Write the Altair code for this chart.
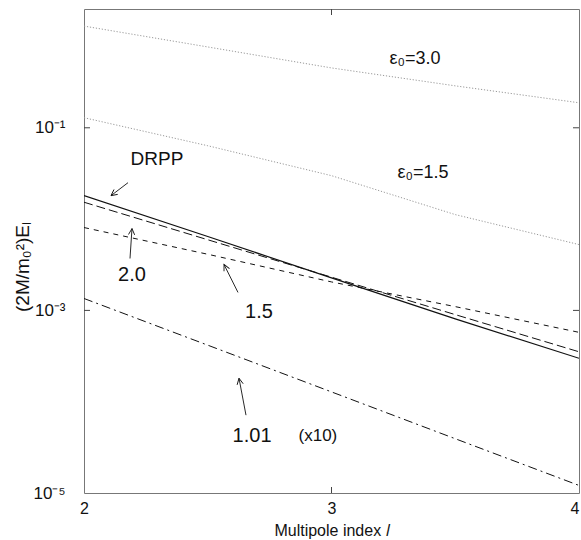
import math
import altair as alt
import pandas as pd

# ---- data ----
l_vals = [2.0, 2.5, 3.0, 3.5, 4.0]
eps30 = [1.30, 0.768, 0.4525, 0.288, 0.188]
eps15 = [0.129, 0.0636, 0.0299, 0.0112, 0.00526]
drpp = [0.0181, 0.00644, 0.00227, 0.000807, 0.000299]
e20 = [0.0153, 0.00594, 0.00231, 0.000899, 0.000352]
e15 = [0.00808, 0.00412, 0.00205, 0.00110, 0.000575]
e101 = [0.00135, 0.000416, 0.000128, 0.0000393, 0.0000121]

x_ticks = [2, 3, 4]
y_ticks = [1e-5, 1e-3, 1e-1]
x_inner_ticks = [3]
y_inner_ticks = [1e-3, 1e-1]

y_title = "(2M/m₀²)Eₗ"
x_title = "Multipole index 𝑙"

ann_text = ["ε₀=3.0", "ε₀=1.5", "DRPP", "2.0", "1.5", "1.01", "(x10)"]
ann_l = [3.337, 3.37, 2.295, 2.194, 2.707, 2.679, 2.945]
ann_v = [0.5676, 0.03223, 0.04584, 0.002413, 0.000951, 0.000042, 0.000042]
ann_size = [18, 18, 19, 20, 20, 20, 17]

# arrows: tail -> tip, in data coordinates
arr_l1 = [2.1778, 2.1859, 2.6222, 2.6545]
arr_v1 = [0.02505, 0.003702, 0.001573, 7.12e-5]
arr_l2 = [2.1091, 2.1939, 2.5657, 2.6263]
arr_v2 = [0.01806, 0.007873, 0.003183, 1.806e-4]

W, H = 495, 484
TICK = 6
X_DOM = [2, 4]
Y_DOM = [1e-5, 2]
FONT = "Liberation Sans"

xs = alt.Scale(domain=X_DOM, nice=False, zero=False)
ys = alt.Scale(type="log", domain=Y_DOM, nice=False)

x_axis = alt.Axis(values=x_ticks, labelExpr="'' + round(datum.value)",
                  labelFontSize=16, labelPadding=7, labelOverlap=False,
                  labelFlush=False,
                  labelAlign={"condition": {"test": "datum.value >= 4", "value": "right"},
                              "value": "center"},
                  ticks=False, domain=False, grid=False, title=x_title,
                  titleFontSize=16, titleFontWeight="normal", titlePadding=6)
y_axis = alt.Axis(values=y_ticks,
                  labelExpr="'10' + (datum.value < 1e-4 ? '⁻⁵' : (datum.value < 1e-2 ? '⁻³' : '⁻¹'))",
                  labelFontSize=17, labelPadding=19, labelBaseline="middle",
                  labelOverlap=False, labelFlush=False,
                  ticks=False, domain=False, grid=False, title="")

X = alt.X("l:Q", scale=xs, axis=x_axis)
Y = alt.Y("v:Q", scale=ys, axis=y_axis)


def sdf(vals):
    return pd.DataFrame({"l": l_vals, "v": vals})


def line(vals, color, dash=None, width=1.0):
    kw = dict(color=color, strokeWidth=width, clip=True)
    if dash:
        kw["strokeDash"] = dash
    return alt.Chart(sdf(vals)).mark_line(**kw).encode(x=X, y=Y)


layers = [
    line(eps30, "#999999", [1.2, 1.8], 1.0),
    line(eps15, "#999999", [1.2, 1.8], 1.0),
    line(drpp, "#111111", None, 1.2),
    line(e20, "#111111", [9, 4], 1.0),
    line(e15, "#111111", [5, 5], 1.0),
    line(e101, "#111111", [9, 4, 2, 4], 1.0),
]

# inward axis ticks on all four sides
xt_df = pd.DataFrame({"l": x_inner_ticks})
yt_df = pd.DataFrame({"v": y_inner_ticks})
layers += [
    alt.Chart(xt_df).mark_rule(color="#444", strokeWidth=1).encode(
        x=X, y=alt.value(H), y2=alt.value(H - TICK)),
    alt.Chart(xt_df).mark_rule(color="#444", strokeWidth=1).encode(
        x=X, y=alt.value(0), y2=alt.value(TICK)),
    alt.Chart(yt_df).mark_rule(color="#444", strokeWidth=1).encode(
        y=Y, x=alt.value(0), x2=alt.value(TICK)),
    alt.Chart(yt_df).mark_rule(color="#444", strokeWidth=1).encode(
        y=Y, x=alt.value(W), x2=alt.value(W - TICK)),
]

# rotated y-axis title
layers.append(
    alt.Chart(pd.DataFrame({"t": [y_title]})).mark_text(
        font=FONT, fontSize=19, color="#111", angle=270, align="center",
        baseline="middle").encode(text="t:N", x=alt.value(-61), y=alt.value(H / 2 + 16))
)

ann_df = pd.DataFrame({"t": ann_text, "l": ann_l, "v": ann_v, "s": ann_size})
layers.append(
    alt.Chart(ann_df).mark_text(font=FONT, color="#111", align="center", baseline="middle").encode(
        x=X, y=Y, text="t:N", size=alt.Size("s:Q", scale=None, legend=None))
)

arr_df = pd.DataFrame({"l": arr_l1, "v": arr_v1, "l2": arr_l2, "v2": arr_v2})


def to_px(l, v):
    px = (l - X_DOM[0]) / (X_DOM[1] - X_DOM[0]) * W
    ly0, ly1 = math.log10(Y_DOM[0]), math.log10(Y_DOM[1])
    py = (ly1 - math.log10(v)) / (ly1 - ly0) * H
    return px, py


angles = []
for a, b, c, d in zip(arr_l1, arr_v1, arr_l2, arr_v2):
    x1, y1 = to_px(a, b)
    x2, y2 = to_px(c, d)
    ang = math.degrees(math.atan2(x2 - x1, -(y2 - y1))) % 360
    angles.append(ang)
arr_df["ang"] = angles

layers.append(
    alt.Chart(arr_df).mark_rule(color="#111", strokeWidth=0.9).encode(
        x=X, y=Y, x2="l2:Q", y2="v2:Q")
)
layers.append(
    alt.Chart(arr_df).mark_point(shape="M-0.5,1L0,0L0.5,1", filled=False, color="#111",
                                 strokeWidth=0.9, size=150, opacity=1).encode(
        x=alt.X("l2:Q", scale=xs, axis=x_axis), y=alt.Y("v2:Q", scale=ys, axis=y_axis),
        angle=alt.Angle("ang:Q", scale=None))
)

chart = alt.layer(*layers).properties(
    width=W, height=H,
    autosize=alt.AutoSizeParams(type="none"),
    padding={"left": 84, "top": 9, "right": 2, "bottom": 47},
    background="white",
).configure_view(stroke="#777", strokeWidth=1).configure_axis(
    labelFont=FONT, titleFont=FONT, labelColor="#111", titleColor="#111"
)

chart.save("out.html", embed_options={"renderer": "svg", "actions": False})
